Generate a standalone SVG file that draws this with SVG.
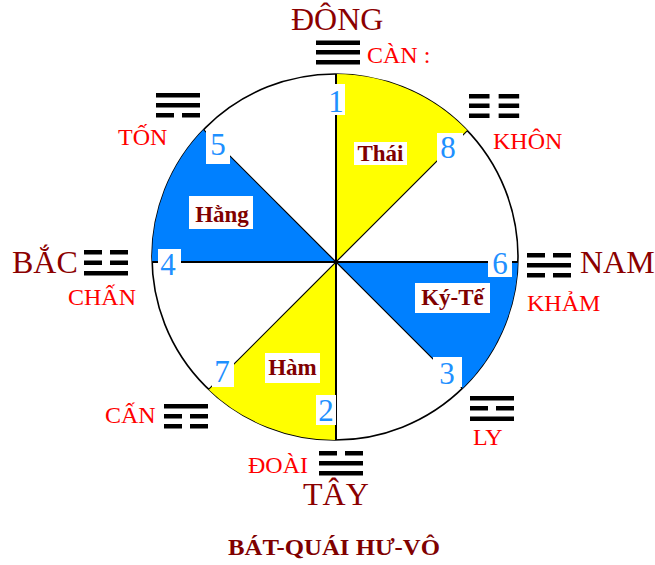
<svg xmlns="http://www.w3.org/2000/svg" width="655" height="565" viewBox="0 0 655 565">
<style>
.dir{font-family:"Liberation Serif","Times New Roman",serif;font-size:32px;fill:#8b0000}
.tri{font-family:"Liberation Serif","Times New Roman",serif;font-size:24px;fill:#ff0000}
.num{font-family:"Liberation Serif","Times New Roman",serif;font-size:31px;fill:#1e90ff;text-anchor:middle}
.lab{font-family:"Liberation Serif","Times New Roman",serif;font-size:23px;font-weight:bold;fill:#800000;text-anchor:middle}
.title{font-family:"Liberation Serif","Times New Roman",serif;font-size:23px;font-weight:bold;fill:#800000}
.box{fill:#ffffff}
.bar{fill:#000000}
.yellow{fill:#ffff00}
.blue{fill:#0080ff}
.spoke{stroke:#000;stroke-width:2;fill:none}
.diag{stroke:#000;stroke-width:1.2;fill:none}
</style>
<defs>
<g id="yang"><rect class="bar" width="44" height="4.5"/></g>
<g id="yin"><rect class="bar" width="18" height="4.5"/><rect class="bar" x="26" width="18" height="4.5"/></g>
</defs>
<rect width="655" height="565" fill="#ffffff"/>

<g id="wheel">
<circle cx="335" cy="257" r="183" fill="#ffffff" stroke="#000" stroke-width="1.6"/>
<path id="wedge-thai" class="yellow" d="M336,262 L336,74 A183,183 0 0 1 467.4,130.6 Z"/>
<path id="wedge-hang" class="blue" d="M336,262 L152.1,262 A183,183 0 0 1 203.6,129.6 Z"/>
<path id="wedge-kyte" class="blue" d="M336,262 L517.9,262 A183,183 0 0 1 462.4,388.4 Z"/>
<path id="wedge-ham" class="yellow" d="M336,262 L336,440 A183,183 0 0 1 208.6,389.4 Z"/>
</g>

<g id="connectors">
<line class="spoke" x1="336" y1="74" x2="336" y2="440"/>
<line class="spoke" x1="152.1" y1="262" x2="517.9" y2="262"/>
<line class="diag" x1="203.6" y1="129.6" x2="462.4" y2="388.4"/>
<line class="diag" x1="467.4" y1="130.6" x2="208.6" y2="389.4"/>
</g>

<g id="n1"><rect class="box" x="325" y="84" width="20" height="31"/><text class="num" x="336" y="112">1</text></g>
<g id="n8"><rect class="box" x="437" y="133" width="26" height="30"/><text class="num" x="448" y="158">8</text></g>
<g id="n5"><rect class="box" x="206" y="130" width="24" height="34"/><text class="num" x="218" y="155">5</text></g>
<g id="n4"><rect class="box" x="158" y="249" width="23" height="32"/><text class="num" x="168" y="275">4</text></g>
<g id="n6"><rect class="box" x="488" y="250" width="24" height="27"/><text class="num" x="500" y="274">6</text></g>
<g id="n3"><rect class="box" x="433" y="357" width="29" height="30"/><text class="num" x="447" y="384">3</text></g>
<g id="n7"><rect class="box" x="212" y="357" width="22" height="30"/><text class="num" x="222" y="382">7</text></g>
<g id="n2"><rect class="box" x="316" y="395" width="20" height="30"/><text class="num" x="326" y="421">2</text></g>

<g id="thai"><rect class="box" x="354" y="142" width="53" height="23"/><text class="lab" x="380.5" y="161">Thái</text></g>
<g id="hang"><rect class="box" x="189" y="196" width="64" height="33"/><text class="lab" x="222" y="222">Hằng</text></g>
<g id="kyte"><rect class="box" x="415" y="283" width="75" height="30"/><text class="lab" x="452.5" y="305">Ký-Tế</text></g>
<g id="ham"><rect class="box" x="265" y="353" width="55" height="30"/><text class="lab" x="292.5" y="375">Hàm</text></g>

<g id="can-top">
<use href="#yang" x="316" y="40.5"/><use href="#yang" x="316" y="50"/><use href="#yang" x="316" y="60"/>
<text class="tri" x="367" y="63">CÀN :</text>
</g>
<g id="khon">
<use href="#yin" transform="translate(469,94) scale(1.14,1)"/><use href="#yin" transform="translate(469,103.5) scale(1.14,1)"/><use href="#yin" transform="translate(469,113.5) scale(1.14,1)"/>
<text class="tri" x="493" y="149">KHÔN</text>
</g>
<g id="ton">
<use href="#yang" x="156" y="93"/><use href="#yang" x="156" y="103"/><use href="#yin" x="156" y="113"/>
<text class="tri" x="118" y="145">TỐN</text>
</g>
<g id="chan">
<use href="#yin" x="84" y="250"/><use href="#yin" x="84" y="260.5"/><use href="#yang" x="84" y="271"/>
<text class="tri" x="68" y="305">CHẤN</text>
</g>
<g id="kham">
<use href="#yin" x="527" y="253"/><use href="#yang" x="527" y="263"/><use href="#yin" x="527" y="273"/>
<text class="tri" x="527" y="311">KHẢM</text>
</g>
<g id="can-low">
<use href="#yang" x="164" y="404"/><use href="#yin" x="164" y="414"/><use href="#yin" x="164" y="424"/>
<text class="tri" x="105" y="423">CẤN</text>
</g>
<g id="ly">
<use href="#yang" x="470" y="396"/><use href="#yin" x="470" y="406"/><use href="#yang" x="470" y="416.5"/>
<text class="tri" x="473" y="445">LY</text>
</g>
<g id="doai">
<use href="#yin" x="319" y="451"/><use href="#yang" x="319" y="461"/><use href="#yang" x="319" y="471"/>
<text class="tri" x="248" y="473">ĐOÀI</text>
</g>

<g id="directions">
<text class="dir" x="291" y="30">ĐÔNG</text>
<text class="dir" x="12" y="273">BẮC</text>
<text class="dir" x="580" y="273">NAM</text>
<text class="dir" x="303" y="505">TÂY</text>
</g>

<g id="title"><text class="title" x="228" y="555" textLength="212" lengthAdjust="spacingAndGlyphs">BÁT-QUÁI HƯ-VÔ</text></g>
</svg>
